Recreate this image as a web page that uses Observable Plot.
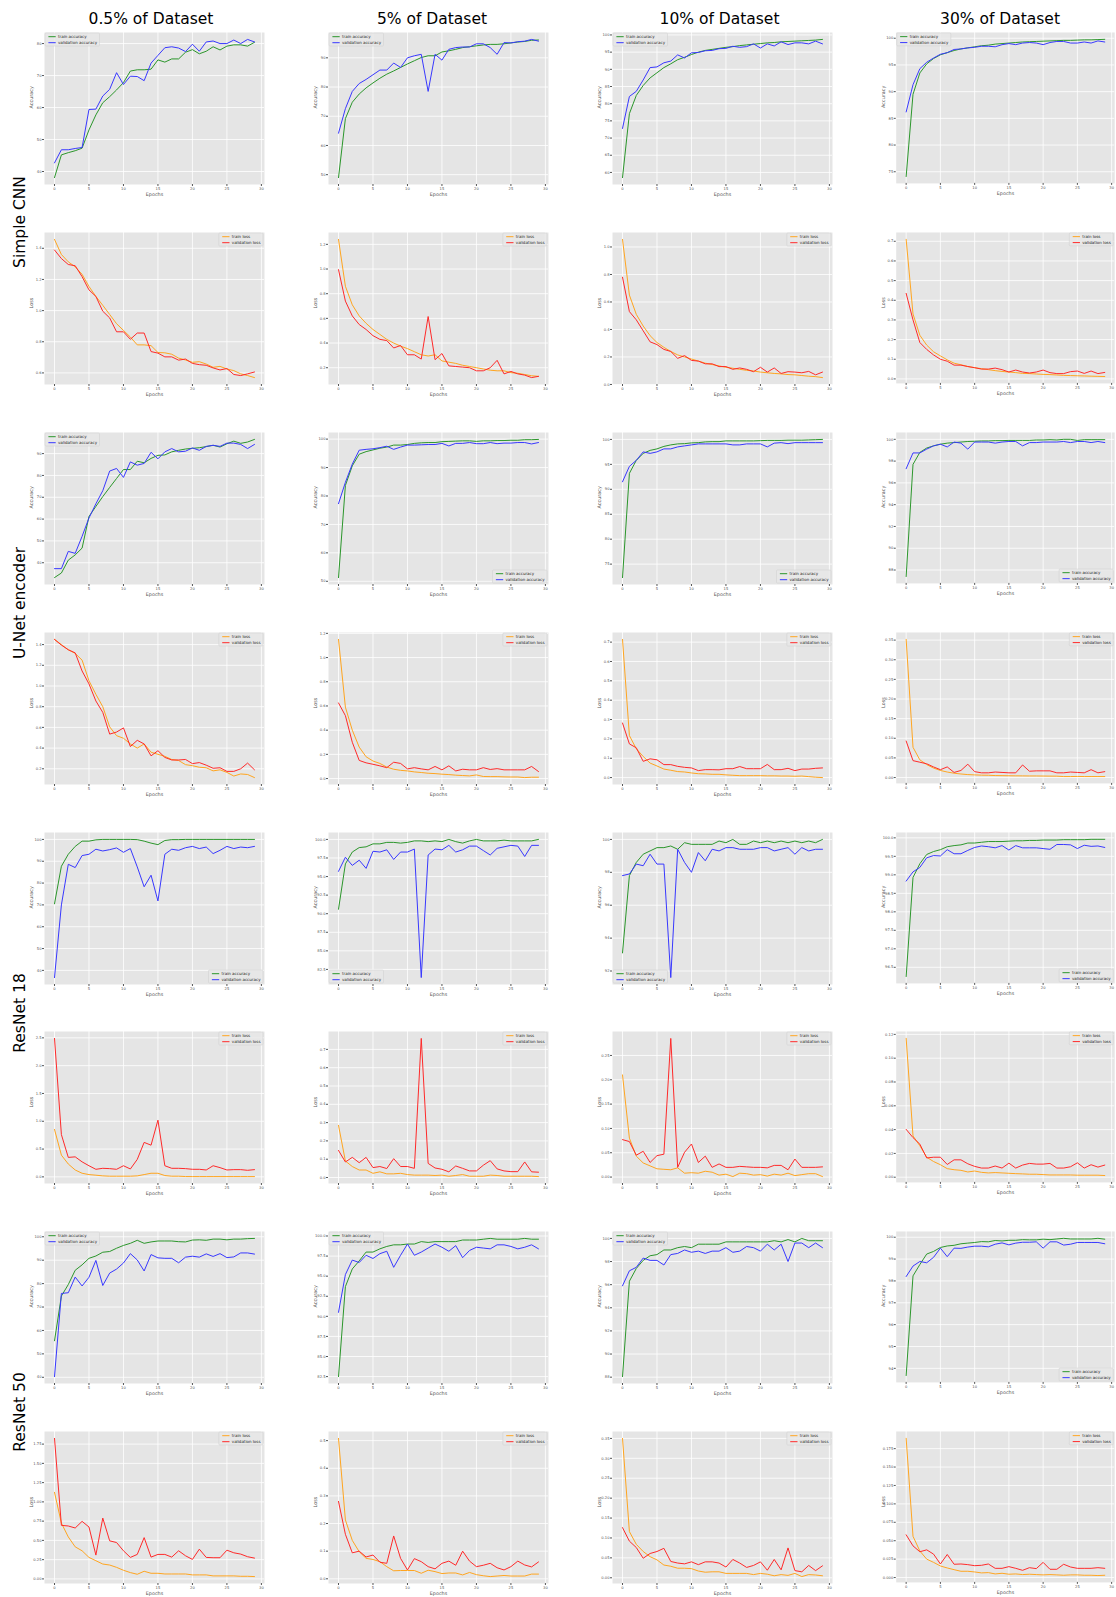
<!DOCTYPE html>
<html><head><meta charset="utf-8">
<script src="https://cdn.jsdelivr.net/npm/d3@7"></script>
<script src="https://cdn.jsdelivr.net/npm/@observablehq/plot@0.6"></script>
<style>
html,body{margin:0;padding:0;background:#fff;overflow:hidden;}
#root{position:relative;width:1116px;height:1597px;font-family:"DejaVu Sans",sans-serif;}
.panel{position:absolute;}
.title{position:absolute;font-size:15.5px;line-height:15.5px;white-space:nowrap;transform:translateX(-50%);color:#000;}
.rowlab{position:absolute;font-size:15.5px;line-height:15.5px;white-space:nowrap;transform:translate(-50%,-50%) rotate(-90deg);color:#000;}
</style></head>
<body><div id="root"></div>
<script>
// ---------- labels ----------
const models = ["Simple CNN", "U-Net encoder", "ResNet 18", "ResNet 50"];
const fractions = ["0.5% of Dataset", "5% of Dataset", "10% of Dataset", "30% of Dataset"];
const epochs = d3.range(30);
const xTicks = [0, 5, 10, 15, 20, 25, 30];

// ---------- Simple CNN ----------
const cnnAcc05Train = [38.1,45.2,45.9,46.5,47.3,53.0,57.7,61.5,63.4,65.5,67.8,71.4,71.8,71.8,72.0,74.9,74.2,75.2,75.2,77.3,78.1,76.8,77.6,79.0,78.0,79.2,79.6,79.6,79.2,80.4];
const cnnAcc05Val = [42.7,46.8,46.8,47.2,47.5,59.4,59.5,63.6,65.7,70.9,67.2,69.8,69.7,68.4,73.9,76.3,78.7,79.0,78.6,77.5,79.8,77.6,80.5,80.8,80.0,80.0,81.1,80.0,81.3,80.5];
const cnnAcc5Train = [49.0,69.2,74.8,77.6,79.7,81.4,83.0,84.4,85.5,86.7,87.9,89.0,90.1,90.7,90.7,92.0,92.4,92.9,93.5,93.8,94.1,94.4,94.6,94.6,94.8,95.1,95.4,95.6,96.0,96.1];
const cnnAcc5Val = [64.2,72.6,78.5,81.2,82.6,84.2,85.8,85.8,88.2,86.7,90.0,90.7,91.2,78.5,91.2,89.2,92.9,93.5,93.7,93.7,94.8,94.8,93.5,91.2,95.2,95.1,95.5,95.7,96.3,95.7];
const cnnAcc10Train = [58.5,77.1,82.4,85.3,87.5,89.0,90.5,91.6,92.8,93.5,94.3,95.0,95.5,95.8,96.1,96.4,96.6,96.9,97.1,97.3,97.5,97.7,97.8,98.0,98.1,98.2,98.3,98.4,98.5,98.7];
const cnnAcc10Val = [72.8,82.1,83.6,86.9,90.5,90.7,91.9,92.4,94.2,93.3,94.8,94.9,95.4,95.5,96.0,96.1,96.7,96.4,96.6,97.4,96.2,97.4,96.8,98.0,97.2,97.7,97.7,97.4,98.2,97.4];
const cnnAcc30Train = [74.1,89.5,93.5,95.2,96.2,96.9,97.3,97.7,98.0,98.2,98.4,98.6,98.7,98.9,99.0,99.1,99.2,99.3,99.35,99.4,99.45,99.5,99.55,99.6,99.6,99.65,99.7,99.7,99.75,99.8];
const cnnAcc30Val = [86.2,91.3,94.3,95.5,96.3,97.0,97.3,97.9,98.0,98.2,98.3,98.5,98.5,98.4,98.8,99.0,98.8,99.1,99.2,99.1,98.8,99.2,99.4,99.4,99.1,99.1,99.3,99.1,99.5,99.3];
const cnnLoss05Train = [1.457,1.360,1.313,1.281,1.233,1.155,1.091,1.034,0.975,0.916,0.873,0.830,0.780,0.780,0.775,0.731,0.729,0.720,0.695,0.683,0.668,0.672,0.657,0.636,0.642,0.625,0.615,0.594,0.583,0.570];
const cnnLoss05Val = [1.389,1.334,1.296,1.288,1.218,1.133,1.091,0.996,0.953,0.864,0.864,0.816,0.856,0.856,0.737,0.727,0.703,0.703,0.682,0.689,0.661,0.653,0.649,0.632,0.619,0.628,0.590,0.583,0.594,0.606];
const cnnLoss5Train = [1.24,0.86,0.71,0.62,0.56,0.51,0.47,0.43,0.40,0.375,0.355,0.33,0.305,0.295,0.305,0.255,0.245,0.235,0.22,0.21,0.20,0.19,0.18,0.175,0.175,0.16,0.155,0.145,0.135,0.13];
const cnnLoss5Val = [0.995,0.74,0.62,0.55,0.51,0.46,0.43,0.42,0.36,0.38,0.305,0.305,0.27,0.615,0.265,0.315,0.215,0.21,0.205,0.20,0.175,0.175,0.20,0.26,0.15,0.17,0.15,0.14,0.12,0.13];
const cnnLoss10Train = [1.055,0.65,0.51,0.425,0.355,0.305,0.27,0.24,0.215,0.20,0.185,0.17,0.155,0.145,0.135,0.125,0.118,0.11,0.103,0.098,0.09,0.085,0.08,0.077,0.072,0.07,0.065,0.06,0.057,0.05];
const cnnLoss10Val = [0.78,0.53,0.47,0.39,0.31,0.29,0.255,0.24,0.19,0.21,0.175,0.17,0.15,0.15,0.13,0.13,0.11,0.12,0.11,0.093,0.125,0.09,0.12,0.08,0.093,0.09,0.085,0.095,0.07,0.09];
const cnnLoss30Train = [0.71,0.33,0.222,0.172,0.138,0.117,0.097,0.08,0.072,0.063,0.057,0.052,0.047,0.042,0.038,0.035,0.032,0.028,0.027,0.025,0.023,0.022,0.02,0.018,0.017,0.016,0.015,0.014,0.013,0.012];
const cnnLoss30Val = [0.435,0.30,0.185,0.15,0.122,0.10,0.09,0.07,0.07,0.063,0.057,0.05,0.05,0.055,0.047,0.035,0.045,0.035,0.03,0.035,0.045,0.032,0.027,0.027,0.037,0.04,0.028,0.04,0.027,0.033];

// ---------- U-Net encoder ----------
const unetAcc05Train = [33.2,35.3,41.2,43.6,46.7,61.2,65.8,70.3,74.5,78.6,82.7,82.7,86.5,85.8,87.8,89.2,89.4,90.8,91.5,92.1,92.4,92.7,93.2,93.8,93.0,94.5,95.7,94.7,95.3,96.5];
const unetAcc05Val = [37.3,37.3,45.2,44.3,52.1,60.5,67.0,73.0,82.0,83.2,79.1,86.2,84.7,85.5,90.6,87.6,90.8,92.3,90.8,91.1,92.6,91.5,93.3,93.8,93.3,94.8,94.8,94.2,92.3,94.2];
const unetAcc5Train = [51.3,83.7,90.6,94.7,95.6,96.2,96.8,97.2,97.9,97.9,98.1,98.5,98.7,98.8,98.8,99.1,99.2,99.3,99.4,99.4,99.2,99.4,99.4,99.5,99.5,99.6,99.6,99.8,99.8,99.9];
const unetAcc5Val = [77.3,84.8,91.2,96.1,96.4,96.6,97.0,97.5,96.4,97.2,97.9,97.9,98.0,98.1,98.1,98.5,97.6,98.5,98.5,98.8,98.4,98.4,98.8,98.4,98.6,98.6,98.8,98.8,98.3,98.8];
const unetAcc10Train = [72.3,93.2,95.8,97.2,97.8,98.1,98.6,98.9,99.1,99.15,99.3,99.35,99.5,99.55,99.55,99.7,99.7,99.7,99.7,99.7,99.75,99.8,99.8,99.8,99.85,99.85,99.85,99.9,99.95,100.0];
const unetAcc10Val = [91.5,94.6,95.8,97.5,97.2,97.5,98.1,98.1,98.5,98.7,98.9,99.1,99.1,99.1,99.1,99.1,98.9,98.9,99.1,99.1,99.1,98.5,99.25,99.35,99.15,99.35,99.35,99.35,99.35,99.35];
const unetAcc30Train = [87.4,97.7,98.8,99.2,99.4,99.55,99.65,99.7,99.75,99.8,99.82,99.85,99.85,99.88,99.88,99.9,99.9,99.9,99.9,99.94,99.94,99.97,99.94,100.0,100.0,99.9,99.97,99.97,99.97,99.97];
const unetAcc30Val = [97.3,98.75,98.75,99.1,99.4,99.55,99.3,99.75,99.65,99.1,99.75,99.75,99.75,99.65,99.75,99.8,99.8,99.4,99.7,99.7,99.75,99.75,99.75,99.8,99.7,99.8,99.8,99.7,99.8,99.7];
const unetLoss05Train = [1.45,1.40,1.35,1.315,1.25,1.05,0.92,0.80,0.605,0.52,0.495,0.44,0.40,0.44,0.36,0.34,0.32,0.29,0.28,0.24,0.23,0.215,0.21,0.18,0.19,0.165,0.13,0.15,0.145,0.115];
const unetLoss05Val = [1.45,1.395,1.35,1.32,1.145,1.02,0.855,0.745,0.535,0.555,0.595,0.415,0.475,0.44,0.325,0.375,0.31,0.285,0.285,0.29,0.25,0.26,0.235,0.205,0.21,0.175,0.175,0.2,0.255,0.19];
const unetLoss5Train = [1.15,0.59,0.40,0.26,0.18,0.145,0.125,0.095,0.077,0.068,0.063,0.055,0.05,0.044,0.041,0.036,0.033,0.028,0.025,0.022,0.03,0.017,0.016,0.016,0.014,0.013,0.013,0.008,0.011,0.011];
const unetLoss5Val = [0.625,0.52,0.30,0.15,0.13,0.118,0.105,0.09,0.135,0.125,0.08,0.09,0.08,0.072,0.1,0.072,0.105,0.063,0.077,0.072,0.072,0.09,0.075,0.082,0.072,0.072,0.072,0.072,0.10,0.058];
const unetLoss10Train = [0.714,0.217,0.149,0.109,0.075,0.06,0.044,0.038,0.031,0.029,0.024,0.02,0.019,0.017,0.017,0.014,0.012,0.01,0.01,0.01,0.01,0.009,0.009,0.008,0.008,0.007,0.008,0.005,0.002,0.0];
const unetLoss10Val = [0.282,0.174,0.154,0.084,0.097,0.092,0.067,0.067,0.058,0.053,0.05,0.036,0.041,0.041,0.04,0.046,0.046,0.057,0.046,0.046,0.046,0.068,0.041,0.041,0.048,0.036,0.044,0.044,0.048,0.05];
const unetLoss30Train = [0.352,0.077,0.045,0.033,0.024,0.018,0.014,0.011,0.009,0.0075,0.0067,0.006,0.0058,0.005,0.0048,0.0045,0.0043,0.0042,0.004,0.004,0.0038,0.0036,0.0035,0.0025,0.0025,0.0028,0.0025,0.0025,0.0025,0.0025];
const unetLoss30Val = [0.093,0.043,0.039,0.035,0.027,0.02,0.027,0.013,0.018,0.034,0.015,0.012,0.012,0.014,0.013,0.012,0.012,0.032,0.016,0.017,0.017,0.017,0.012,0.012,0.014,0.013,0.012,0.02,0.012,0.015];

// ---------- ResNet 18 ----------
const r18Acc05Train = [70.5,87.7,93.2,96.8,99.2,99.2,99.8,100,100,100,100,100,99.9,99.2,98.3,97.6,99.5,99.9,99.9,100,100,100,100,100,100,100,100,100,100,100];
const r18Acc05Val = [36.7,70.0,88.6,87.1,92.6,93.2,95.5,94.7,95.3,96.1,94.1,95.8,87.4,78.3,83.6,71.8,93.2,95.5,95.0,96.2,96.8,95.8,96.5,93.5,95.0,96.8,95.8,96.5,96.2,96.8];
const r18Acc5Train = [90.6,96.7,98.3,98.9,99.0,99.4,99.4,99.6,99.6,99.5,99.6,99.8,99.8,99.7,99.8,99.7,100.0,99.7,99.5,99.8,100.0,99.8,99.8,99.8,99.9,99.8,99.8,99.8,99.8,100.0];
const r18Acc5Val = [95.7,97.6,96.5,97.2,96.1,98.4,98.3,98.6,97.3,98.3,98.3,98.7,81.4,97.9,98.7,98.6,99.2,98.3,98.6,99.1,99.1,98.5,97.9,98.8,99.0,99.2,99.1,97.7,99.2,99.2];
const r18Acc10Train = [93.1,97.8,98.6,99.1,99.3,99.5,99.5,99.6,99.4,99.8,99.7,99.7,99.7,99.7,99.9,99.8,100.0,99.7,99.7,99.9,99.8,99.9,99.8,99.9,99.8,99.9,99.8,99.9,99.8,100.0];
const r18Acc10Val = [97.8,97.9,98.5,98.4,99.1,98.5,98.5,91.6,99.4,98.6,98.0,99.2,98.7,99.4,99.3,99.5,99.5,99.4,99.4,99.4,99.5,99.5,99.3,99.4,99.5,99.1,99.5,99.3,99.4,99.4];
const r18Acc30Train = [96.25,98.93,99.3,99.55,99.63,99.68,99.76,99.79,99.81,99.86,99.86,99.88,99.9,99.9,99.9,99.91,99.92,99.92,99.93,99.93,99.94,99.94,99.94,99.95,99.95,99.95,99.95,99.96,99.96,99.96];
const r18Acc30Val = [98.83,99.08,99.2,99.46,99.52,99.51,99.68,99.57,99.57,99.66,99.74,99.78,99.76,99.73,99.79,99.67,99.79,99.73,99.73,99.73,99.71,99.69,99.82,99.82,99.81,99.71,99.8,99.77,99.78,99.74];
const r18Loss05Train = [0.853,0.391,0.231,0.124,0.065,0.041,0.03,0.018,0.012,0.012,0.012,0.012,0.018,0.041,0.065,0.065,0.024,0.012,0.012,0.006,0.005,0.005,0.005,0.005,0.005,0.005,0.005,0.005,0.005,0.005];
const r18Loss05Val = [2.49,0.76,0.35,0.36,0.27,0.2,0.136,0.154,0.148,0.136,0.2,0.142,0.314,0.62,0.57,1.02,0.2,0.154,0.154,0.148,0.136,0.136,0.124,0.2,0.166,0.124,0.13,0.13,0.118,0.13];
const r18Loss5Train = [0.285,0.09,0.06,0.041,0.041,0.023,0.031,0.02,0.02,0.023,0.016,0.013,0.013,0.013,0.011,0.013,0.007,0.011,0.016,0.007,0.007,0.007,0.013,0.011,0.007,0.007,0.007,0.007,0.007,0.005];
const r18Loss5Val = [0.148,0.085,0.11,0.081,0.11,0.054,0.06,0.049,0.103,0.06,0.06,0.05,0.76,0.077,0.052,0.045,0.031,0.063,0.05,0.036,0.036,0.067,0.092,0.047,0.036,0.032,0.032,0.085,0.031,0.029];
const r18Loss10Train = [0.21,0.08,0.043,0.029,0.023,0.017,0.016,0.015,0.019,0.008,0.009,0.008,0.012,0.01,0.004,0.006,0.001,0.008,0.007,0.004,0.005,0.002,0.006,0.004,0.008,0.003,0.005,0.007,0.007,0.001];
const r18Loss10Val = [0.077,0.073,0.045,0.053,0.03,0.044,0.047,0.285,0.02,0.051,0.068,0.03,0.043,0.02,0.027,0.02,0.02,0.022,0.021,0.02,0.02,0.019,0.024,0.024,0.015,0.037,0.02,0.02,0.02,0.021];
const r18Loss30Train = [0.1167,0.0347,0.0264,0.0168,0.0132,0.0105,0.0072,0.0063,0.0058,0.0044,0.0052,0.0041,0.0036,0.0039,0.0036,0.0033,0.003,0.0028,0.0025,0.0025,0.0022,0.0019,0.0019,0.0019,0.0019,0.0017,0.0017,0.0017,0.0017,0.0014];
const r18Loss30Val = [0.0402,0.0333,0.0278,0.0162,0.0168,0.0168,0.0107,0.0146,0.0146,0.0113,0.0091,0.0077,0.0077,0.0094,0.0077,0.0118,0.0077,0.0102,0.0116,0.011,0.011,0.0116,0.0077,0.0077,0.0088,0.0121,0.0077,0.0105,0.0085,0.0102];

// ---------- ResNet 50 ----------
const r50Acc05Train = [55.6,74.7,79.6,85.7,88.0,90.8,91.8,93.4,93.7,95.1,96.3,97.2,98.5,97.2,97.8,98.2,98.2,98.2,97.9,97.8,98.6,98.7,98.5,99.0,99.0,98.7,99.0,99.0,99.2,99.3];
const r50Acc05Val = [40.3,75.8,76.1,82.8,79.0,82.7,89.9,79.2,84.5,86.2,88.8,92.8,90.1,85.4,92.4,91.0,90.8,90.8,88.9,91.3,91.7,91.3,92.7,91.6,92.8,91.1,91.4,93.1,93.1,92.6];
const r50Acc5Train = [82.5,93.7,95.9,96.9,98.0,98.0,98.4,98.7,98.9,98.9,99.0,99.0,99.3,99.2,99.3,99.3,99.3,99.3,99.5,99.5,99.5,99.6,99.7,99.6,99.6,99.6,99.6,99.7,99.6,99.6];
const r50Acc5Val = [90.5,95.2,97.0,96.7,97.6,97.2,97.8,98.1,96.1,97.6,99.0,97.6,98.0,98.5,99.0,98.6,98.1,98.8,97.3,98.2,98.6,98.5,98.4,98.9,98.9,98.7,98.4,98.6,98.9,98.4];
const r50Acc10Train = [88.05,96.3,97.4,98.1,98.5,98.6,99.0,99.0,99.2,99.3,99.2,99.5,99.5,99.5,99.5,99.7,99.7,99.7,99.7,99.7,99.7,99.7,99.8,99.7,99.9,99.7,100.0,99.8,99.8,99.8];
const r50Acc10Val = [95.9,97.2,97.5,98.3,98.1,98.1,97.7,98.6,98.7,99.0,98.8,98.9,98.7,98.9,98.9,99.2,98.8,98.9,99.3,99.2,98.9,99.5,99.0,99.5,98.0,99.6,99.6,99.2,99.6,99.2];
const r50Acc30Train = [93.67,98.23,98.75,99.23,99.35,99.53,99.6,99.63,99.7,99.73,99.76,99.8,99.79,99.85,99.83,99.86,99.86,99.89,99.88,99.88,99.91,99.89,99.92,99.95,99.92,99.92,99.92,99.92,99.95,99.91];
const r50Acc30Val = [98.2,98.68,98.89,98.83,99.08,99.5,99.11,99.5,99.49,99.55,99.59,99.59,99.56,99.68,99.74,99.65,99.73,99.77,99.77,99.79,99.5,99.79,99.79,99.64,99.68,99.76,99.76,99.76,99.76,99.7];
const r50Loss05Train = [1.124,0.725,0.545,0.416,0.365,0.279,0.236,0.193,0.18,0.15,0.112,0.082,0.06,0.099,0.073,0.073,0.064,0.064,0.064,0.064,0.052,0.052,0.052,0.039,0.039,0.039,0.039,0.034,0.034,0.03];
const r50Loss05Val = [1.824,0.695,0.687,0.661,0.747,0.674,0.309,0.79,0.494,0.472,0.365,0.279,0.318,0.536,0.283,0.318,0.318,0.283,0.365,0.3,0.253,0.386,0.279,0.275,0.275,0.373,0.339,0.322,0.288,0.27];
const r50Loss5Train = [0.508,0.213,0.139,0.098,0.074,0.07,0.062,0.044,0.029,0.03,0.03,0.03,0.02,0.031,0.026,0.019,0.021,0.021,0.014,0.023,0.015,0.011,0.008,0.01,0.012,0.01,0.01,0.01,0.017,0.017];
const r50Loss5Val = [0.28,0.161,0.094,0.1,0.079,0.086,0.06,0.056,0.155,0.074,0.032,0.073,0.062,0.044,0.036,0.056,0.064,0.049,0.1,0.064,0.044,0.049,0.056,0.04,0.032,0.044,0.064,0.05,0.043,0.061];
const r50Loss10Train = [0.35,0.116,0.084,0.066,0.053,0.045,0.032,0.029,0.024,0.024,0.023,0.017,0.014,0.015,0.015,0.011,0.011,0.011,0.011,0.008,0.011,0.009,0.005,0.008,0.006,0.011,0.003,0.008,0.007,0.005];
const r50Loss10Val = [0.126,0.092,0.076,0.049,0.061,0.066,0.074,0.041,0.037,0.035,0.04,0.033,0.04,0.04,0.037,0.027,0.046,0.037,0.026,0.031,0.04,0.019,0.046,0.02,0.075,0.018,0.015,0.031,0.018,0.03];
const r50Loss30Train = [0.189,0.056,0.036,0.025,0.0206,0.0157,0.013,0.0107,0.0085,0.0085,0.0076,0.0063,0.0067,0.0049,0.0058,0.0045,0.0049,0.004,0.0045,0.004,0.0036,0.004,0.0036,0.0031,0.0036,0.0036,0.0031,0.0031,0.0027,0.0031];
const r50Loss30Val = [0.058,0.043,0.035,0.0376,0.0318,0.0184,0.0313,0.018,0.0184,0.0175,0.0161,0.0166,0.0184,0.0125,0.0125,0.0148,0.0125,0.0098,0.0134,0.0121,0.0206,0.0112,0.0112,0.018,0.0143,0.0125,0.0125,0.0125,0.0134,0.0125];

// ---------- y tick labels per row (columns 0.5%, 5%, 10%, 30%) ----------
const ticksCnnAcc = [[40,50,60,70,80],[50,60,70,80,90],[60,65,70,75,80,85,90,95,100],[75,80,85,90,95,100]];
const ticksCnnLoss = [[0.6,0.8,1.0,1.2,1.4],[0.2,0.4,0.6,0.8,1.0,1.2],[0.0,0.2,0.4,0.6,0.8,1.0],[0.0,0.1,0.2,0.3,0.4,0.5,0.6,0.7]];
const ticksUnetAcc = [[40,50,60,70,80,90],[50,60,70,80,90,100],[75,80,85,90,95,100],[88,90,92,94,96,98,100]];
const ticksUnetLoss = [[0.2,0.4,0.6,0.8,1.0,1.2,1.4],[0.0,0.2,0.4,0.6,0.8,1.0,1.2],[0.0,0.1,0.2,0.3,0.4,0.5,0.6,0.7],[0.00,0.05,0.10,0.15,0.20,0.25,0.30,0.35]];
const ticksR18Acc = [[40,50,60,70,80,90,100],[82.5,85.0,87.5,90.0,92.5,95.0,97.5,100.0],[92,94,96,98,100],[96.5,97.0,97.5,98.0,98.5,99.0,99.5,100.0]];
const ticksR18Loss = [[0.0,0.5,1.0,1.5,2.0,2.5],[0.0,0.1,0.2,0.3,0.4,0.5,0.6,0.7],[0.00,0.05,0.10,0.15,0.20,0.25],[0.00,0.02,0.04,0.06,0.08,0.10,0.12]];
const ticksR50Acc = [[40,50,60,70,80,90,100],[82.5,85.0,87.5,90.0,92.5,95.0,97.5,100.0],[88,90,92,94,96,98,100],[94,95,96,97,98,99,100]];
const ticksR50Loss = [[0.00,0.25,0.50,0.75,1.00,1.25,1.50,1.75],[0.0,0.1,0.2,0.3,0.4,0.5],[0.00,0.05,0.10,0.15,0.20,0.25,0.30,0.35],[0.000,0.025,0.050,0.075,0.100,0.125,0.150,0.175]];
// decimals shown on each row's tick labels
const tickDecimals = [[0,0,0,0],[1,1,1,1],[0,0,0,0],[1,1,1,2],[0,1,0,1],[1,1,2,2],[0,1,0,0],[2,1,2,3]];

// legend placement (ul / ur / ll / lr)
const legendLoc = [
  ["ul","ul","ul","ul"],
  ["ur","ur","ur","ur"],
  ["ul","lr","lr","lr"],
  ["ur","ur","ur","ur"],
  ["lr","ll","ll","lr"],
  ["ur","ur","ur","ur"],
  ["ul","ul","ul","lr"],
  ["ur","ur","ur","ur"]
];

// ---------- assemble rows ----------
const rows = [
  {kind:"acc",  train:[cnnAcc05Train,cnnAcc5Train,cnnAcc10Train,cnnAcc30Train], val:[cnnAcc05Val,cnnAcc5Val,cnnAcc10Val,cnnAcc30Val], ticks:ticksCnnAcc},
  {kind:"loss", train:[cnnLoss05Train,cnnLoss5Train,cnnLoss10Train,cnnLoss30Train], val:[cnnLoss05Val,cnnLoss5Val,cnnLoss10Val,cnnLoss30Val], ticks:ticksCnnLoss},
  {kind:"acc",  train:[unetAcc05Train,unetAcc5Train,unetAcc10Train,unetAcc30Train], val:[unetAcc05Val,unetAcc5Val,unetAcc10Val,unetAcc30Val], ticks:ticksUnetAcc},
  {kind:"loss", train:[unetLoss05Train,unetLoss5Train,unetLoss10Train,unetLoss30Train], val:[unetLoss05Val,unetLoss5Val,unetLoss10Val,unetLoss30Val], ticks:ticksUnetLoss},
  {kind:"acc",  train:[r18Acc05Train,r18Acc5Train,r18Acc10Train,r18Acc30Train], val:[r18Acc05Val,r18Acc5Val,r18Acc10Val,r18Acc30Val], ticks:ticksR18Acc},
  {kind:"loss", train:[r18Loss05Train,r18Loss5Train,r18Loss10Train,r18Loss30Train], val:[r18Loss05Val,r18Loss5Val,r18Loss10Val,r18Loss30Val], ticks:ticksR18Loss},
  {kind:"acc",  train:[r50Acc05Train,r50Acc5Train,r50Acc10Train,r50Acc30Train], val:[r50Acc05Val,r50Acc5Val,r50Acc10Val,r50Acc30Val], ticks:ticksR50Acc},
  {kind:"loss", train:[r50Loss05Train,r50Loss5Train,r50Loss10Train,r50Loss30Train], val:[r50Loss05Val,r50Loss5Val,r50Loss10Val,r50Loss30Val], ticks:ticksR50Loss}
];

const style = {
  acc:  {trainColor:"#2b962b", valColor:"#3838ff", labels:["train accuracy","validation accuracy"], ylabel:"Accuracy"},
  loss: {trainColor:"#ffa520", valColor:"#ff2a2a", labels:["train loss","validation loss"], ylabel:"Loss"}
};

// ---------- layout ----------
const PW = 220, PH = 152;
const M = {left:40, right:2, top:6, bottom:24};
const colLeft = c => 43.8 + 284 * c;
const rowTop = r => 32.3 + 199.8 * r;
const titleCenters = [151, 432, 719.5, 1000];
const rowLabelCenters = [222, 603, 1013, 1412];

const root = document.getElementById("root");
const FONT = '"DejaVu Sans", sans-serif';
const ctx = document.createElement("canvas").getContext("2d");
ctx.font = '40px "DejaVu Sans"';
const textW = (s, fs) => ctx.measureText(s).width * fs / 40;

function addLegend(svg, loc, labels, colors) {
  const fs = 4;
  const tw = d3.max(labels, l => textW(l, fs));
  const bw = 13 + tw + 2.5, bh = 13;
  const x0 = M.left, y0 = M.top, x1 = M.left + PW, y1 = M.top + PH;
  const bx = loc[1] === "l" ? x0 + 1 : x1 - 1 - bw;
  const by = loc[0] === "u" ? y0 + 1 : y1 - 1 - bh;
  const g = d3.select(svg).append("g").attr("class", "legend").attr("text-anchor", "start");
  g.append("rect").attr("x", bx).attr("y", by).attr("width", bw).attr("height", bh).attr("rx", 1)
    .attr("fill", "#e8e8e8").attr("fill-opacity", 0.85).attr("stroke", "#cfcfcf").attr("stroke-width", 0.5);
  labels.forEach((l, i) => {
    const cy = by + 3.7 + 6 * i;
    g.append("line").attr("x1", bx + 3.4).attr("x2", bx + 10.7).attr("y1", cy).attr("y2", cy)
      .attr("stroke", colors[i]).attr("stroke-width", 1);
    g.append("text").attr("x", bx + 13).attr("y", cy).attr("dy", "0.35em")
      .attr("text-anchor", "start")
      .attr("font-size", fs).attr("fill", "#222").attr("font-family", FONT).text(l);
  });
}

rows.forEach((row, r) => {
  const st = style[row.kind];
  for (let c = 0; c < 4; c++) {
    const train = row.train[c], val = row.val[c], yTicks = row.ticks[c];
    const all = train.concat(val);
    const lo = d3.min(all), hi = d3.max(all), pad = (hi - lo) * 0.05;
    const fmt = d3.format("." + tickDecimals[r][c] + "f");
    const svg = Plot.plot({
      width: M.left + PW + M.right,
      height: M.top + PH + M.bottom,
      marginLeft: M.left, marginRight: M.right, marginTop: M.top, marginBottom: M.bottom,
      style: {background: "transparent", color: "#555", fontFamily: FONT, overflow: "visible"},
      x: {domain: [-1.45, 30.45], axis: null},
      y: {domain: [lo - pad, hi + pad], axis: null},
      marks: [
        Plot.frame({fill: "#e5e5e5", stroke: null}),
        Plot.gridX({ticks: xTicks, stroke: "#ffffff", strokeOpacity: 1, strokeWidth: 0.8}),
        Plot.gridY({ticks: yTicks, stroke: "#ffffff", strokeOpacity: 1, strokeWidth: 0.8}),
        Plot.axisX({ticks: xTicks, tickSize: 2, tickPadding: 1.2, fontSize: 3.7, tickFormat: d => String(d), label: null}),
        Plot.axisY({ticks: yTicks, tickSize: 2, tickPadding: 1, fontSize: 3.7, tickFormat: fmt, label: null}),
        Plot.lineY(train, {x: epochs, stroke: st.trainColor, strokeWidth: 1}),
        Plot.lineY(val, {x: epochs, stroke: st.valColor, strokeWidth: 1}),
        Plot.text(["Epochs"], {text: d => d, frameAnchor: "bottom", dy: 11.5, fontSize: 4.9, fill: "#555"}),
        Plot.text([st.ylabel], {text: d => d, frameAnchor: "left", dx: -12.7, rotate: -90, fontSize: 4.9, fill: "#555"})
      ]
    });
    addLegend(svg, legendLoc[r][c], st.labels, [st.trainColor, st.valColor]);
    const div = document.createElement("div");
    div.className = "panel";
    div.style.left = (colLeft(c) - M.left) + "px";
    div.style.top = (rowTop(r) - M.top) + "px";
    div.appendChild(svg);
    root.appendChild(div);
  }
});

fractions.forEach((t, c) => {
  const d = document.createElement("div");
  d.className = "title";
  d.style.left = titleCenters[c] + "px";
  d.style.top = "11.9px";
  d.textContent = t;
  root.appendChild(d);
});
models.forEach((m, i) => {
  const d = document.createElement("div");
  d.className = "rowlab";
  d.style.left = "21px";
  d.style.top = rowLabelCenters[i] + "px";
  d.textContent = m;
  root.appendChild(d);
});
</script>
</body></html>
